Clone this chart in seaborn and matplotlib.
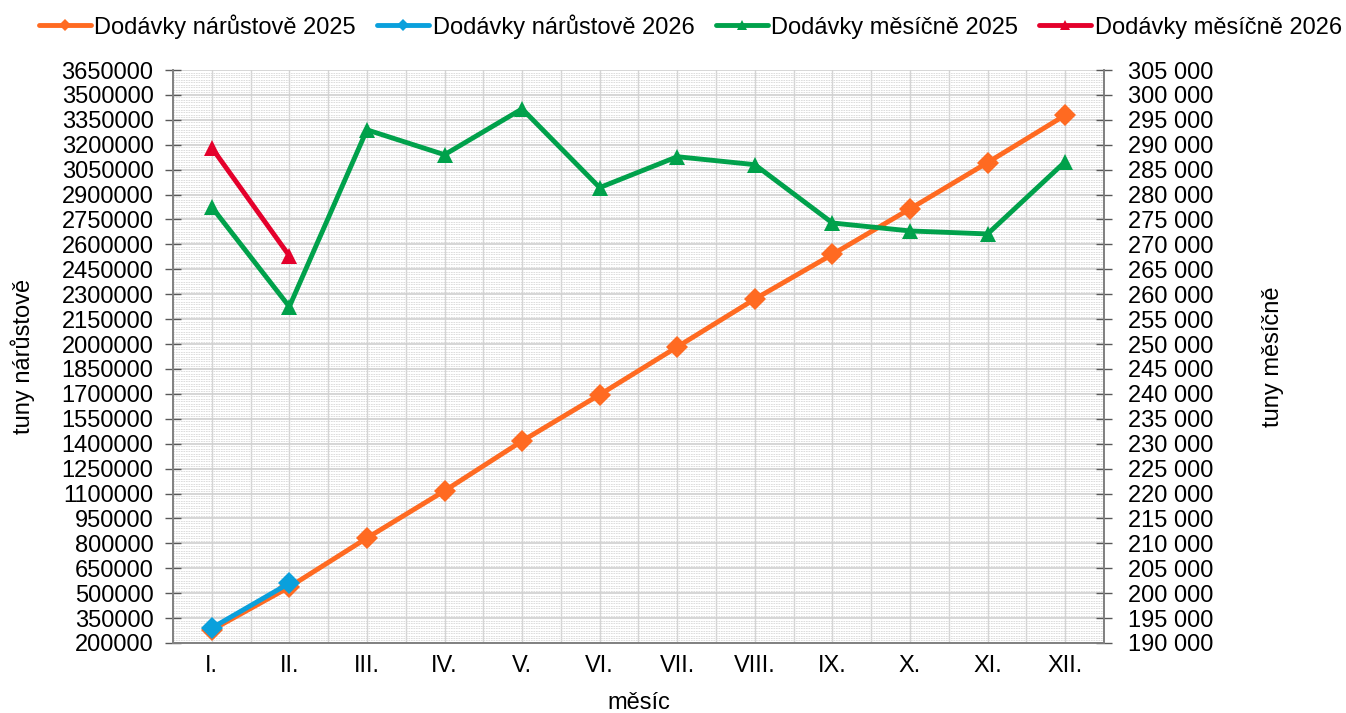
import numpy as np
import pandas as pd
import seaborn as sns
import matplotlib.pyplot as plt
from matplotlib.ticker import FixedLocator, MultipleLocator, FuncFormatter

# data
mesice = ["I.", "II.", "III.", "IV.", "V.", "VI.", "VII.", "VIII.", "IX.", "X.", "XI.", "XII."]
narust_2025 = [278000, 537000, 832000, 1116000, 1416000, 1695000, 1983000, 2271000,
               2540000, 2814000, 3093000, 3378000]
narust_2026 = [290000, 560000]
mesicne_2025 = [277500, 257500, 293000, 288000, 297200, 281400, 287600, 286000,
                274300, 272700, 272100, 286600]
mesicne_2026 = [289400, 267700]

sns.set_style("white")
plt.rcParams['font.family'] = ['Liberation Sans', 'DejaVu Sans']
plt.rcParams['text.color'] = 'black'
plt.rcParams['axes.labelcolor'] = 'black'
plt.rcParams['xtick.color'] = 'black'
plt.rcParams['ytick.color'] = 'black'
fs = 17

fig = plt.figure(figsize=(13.46, 7.13), dpi=100)
ax = fig.add_axes([0.1285, 0.0982, 0.6917, 0.8036])
ax2 = ax.twinx()

x = np.arange(len(mesice))
df = pd.DataFrame({"x": x, "narust": narust_2025, "mesicne": mesicne_2025})
df26 = pd.DataFrame({"x": x[:2], "narust": narust_2026, "mesicne": mesicne_2026})

c_or, c_bl, c_gr, c_rd = "#FF6A21", "#0AA0DC", "#00A14B", "#E4002B"

sns.lineplot(data=df, x="x", y="narust", ax=ax, color=c_or, lw=3.5, marker="D",
             markersize=11, markeredgewidth=0, label="Dodávky nárůstově 2025", legend=False, zorder=3)
sns.lineplot(data=df26, x="x", y="narust", ax=ax, color=c_bl, lw=3.5, marker="D",
             markersize=11, markeredgewidth=0, label="Dodávky nárůstově 2026", legend=False, zorder=4)
sns.lineplot(data=df, x="x", y="mesicne", ax=ax2, color=c_gr, lw=3.5, marker="^",
             markersize=12, markeredgewidth=0, label="Dodávky měsíčně 2025", legend=False, zorder=3)
sns.lineplot(data=df26, x="x", y="mesicne", ax=ax2, color=c_rd, lw=3.5, marker="^",
             markersize=12, markeredgewidth=0, label="Dodávky měsíčně 2026", legend=False, zorder=4)

# axes ranges and ticks
ax.set_xlim(-0.5, 11.5)
ax.set_ylim(200000, 3650000)
ax2.set_ylim(190000, 305000)
ax.yaxis.set_major_locator(FixedLocator(np.arange(200000, 3650001, 150000)))
ax.yaxis.set_minor_locator(FixedLocator(np.arange(200000, 3650001, 15000)))
ax2.yaxis.set_major_locator(MultipleLocator(5000))
ax.yaxis.set_major_formatter(FuncFormatter(lambda v, p: f"{int(v)}"))
ax2.yaxis.set_major_formatter(FuncFormatter(lambda v, p: f"{int(v):,}".replace(",", " ")))

ax.xaxis.set_major_locator(FixedLocator(np.arange(-0.5, 12, 1)))
ax.xaxis.set_major_formatter(plt.NullFormatter())
ax.set_xticks(x, mesice, minor=True)

ax.tick_params(axis="x", which="major", direction="inout", length=12, color="#595959", width=1)
ax.tick_params(axis="x", which="minor", length=0, pad=9, labelsize=fs)
ax.tick_params(axis="y", which="major", direction="inout", length=12, color="#595959",
               width=1, labelsize=fs, pad=8)
ax.tick_params(axis="y", which="minor", length=0)
ax2.tick_params(axis="y", which="major", direction="inout", length=12, color="#595959",
                width=1, labelsize=fs, pad=11)

# grid
ax.set_axisbelow(True)
ax.grid(axis="y", which="major", color="#D0D0D0", lw=1.2)
ax.grid(axis="y", which="minor", color="#D8D8D8", lw=0.6, ls=(0, (2, 1)))
ax.grid(axis="x", which="both", color="#D4D4D4", lw=1)
ax2.grid(False)

for a in (ax, ax2):
    a.spines["top"].set_visible(False)
    for s in ("left", "right", "bottom"):
        a.spines[s].set_color("#808080")
        a.spines[s].set_linewidth(1.2)

ax.set_xlabel("měsíc", fontsize=fs)
ax.set_ylabel("tuny nárůstově", fontsize=fs)
ax2.set_ylabel("tuny měsíčně", fontsize=fs)
ax.xaxis.set_label_coords(0.5, -0.085)
ax.yaxis.set_label_coords(-0.148, 0.5)
ax2.yaxis.set_label_coords(1.170, 0.5)

h1, l1 = ax.get_legend_handles_labels()
h2, l2 = ax2.get_legend_handles_labels()
fig.legend(h1 + h2, l1 + l2, loc="upper center", bbox_to_anchor=(0.513, 1.01), ncol=4,
           frameon=False, fontsize=fs, handlelength=2.2, handletextpad=0.15,
           columnspacing=0.9, markerscale=0.6)

fig.savefig("out.png", dpi=100)
